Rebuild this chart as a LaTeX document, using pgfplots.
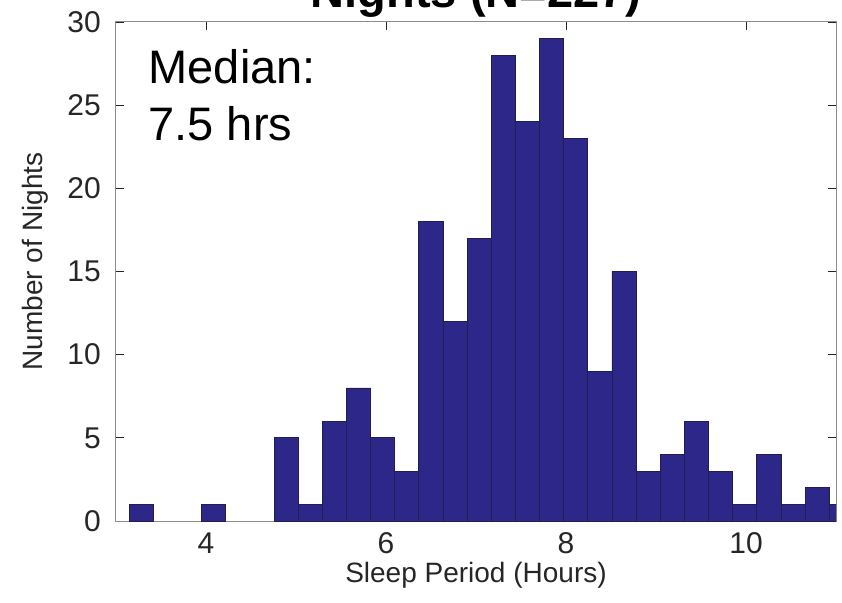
\documentclass[border=0pt]{standalone}
\usepackage{fontspec}
\setmainfont{Liberation Sans}
\usepackage{pgfplots}
\pgfplotsset{compat=1.18}
\definecolor{barfill}{RGB}{46,39,138}
\definecolor{baredge}{RGB}{32,30,82}
\definecolor{axgray}{RGB}{140,140,140}
\definecolor{txtgray}{RGB}{38,38,38}
\begin{document}
\begin{tikzpicture}
\begin{axis}[
 at={(0pt,0pt)}, anchor=south west,
 scale only axis, width=720pt, height=499pt,
 xmin=3, xmax=11, ymin=0, ymax=30,
 xtick={4,6,8,10}, ytick={0,5,...,30},
 tick align=inside, major tick length=8pt,
 axis line style={axgray, line width=1pt},
 tick style={txtgray, line width=0.8pt},
 ticklabel style={font=\fontsize{30}{34}\selectfont, text=txtgray},
 /pgf/number format/assume math mode=true,
 xticklabel style={anchor=base, yshift=-32pt, inner sep=0pt},
 yticklabel style={anchor=east, xshift=-15pt, inner sep=0pt},
 xlabel={Sleep Period (Hours)},
 ylabel={Number of Nights},
 label style={font=\fontsize{28}{32}\selectfont, text=txtgray},
 xlabel style={at={(axis description cs:0.5,0)}, anchor=base, yshift=-61pt, inner sep=0pt},
 ylabel style={at={(axis description cs:-0.1014,0.52)}, anchor=base, inner sep=0pt},
 title={Nights (N=227)},
 title style={font=\fontsize{47}{52}\bfseries\selectfont, at={(axis description cs:0.5,1)}, anchor=base, yshift=8pt, inner sep=0pt},
]
\addplot[ybar interval, fill=barfill, draw=baredge, line width=0.8pt] coordinates {(3.147,1) (3.4152,0)};
\addplot[ybar interval, fill=barfill, draw=baredge, line width=0.8pt] coordinates {(3.9516,1) (4.2198,0)};
\addplot[ybar interval, fill=barfill, draw=baredge, line width=0.8pt] coordinates {
(4.7562,5) (5.0244,1) (5.2926,6) (5.5608,8) (5.829,5) (6.0972,3) (6.3654,18) (6.6336,12)
(6.9018,17) (7.17,28) (7.4382,24) (7.7064,29) (7.9746,23) (8.2428,9) (8.511,15) (8.7792,3)
(9.0474,4) (9.3156,6) (9.5838,3) (9.852,1) (10.1202,4) (10.3884,1) (10.6566,2) (10.9248,1) (11.193,0)};
\node[anchor=base west, font=\fontsize{47}{52}\selectfont, inner sep=0pt] at (axis cs:3.36,26.33) {Median:};
\node[anchor=base west, font=\fontsize{47}{52}\selectfont, inner sep=0pt] at (axis cs:3.36,22.9) {7.5 hrs};
\end{axis}
\pgfresetboundingbox
\path[use as bounding box] (-116pt,-81pt) rectangle (726pt,521pt);
\end{tikzpicture}
\end{document}
